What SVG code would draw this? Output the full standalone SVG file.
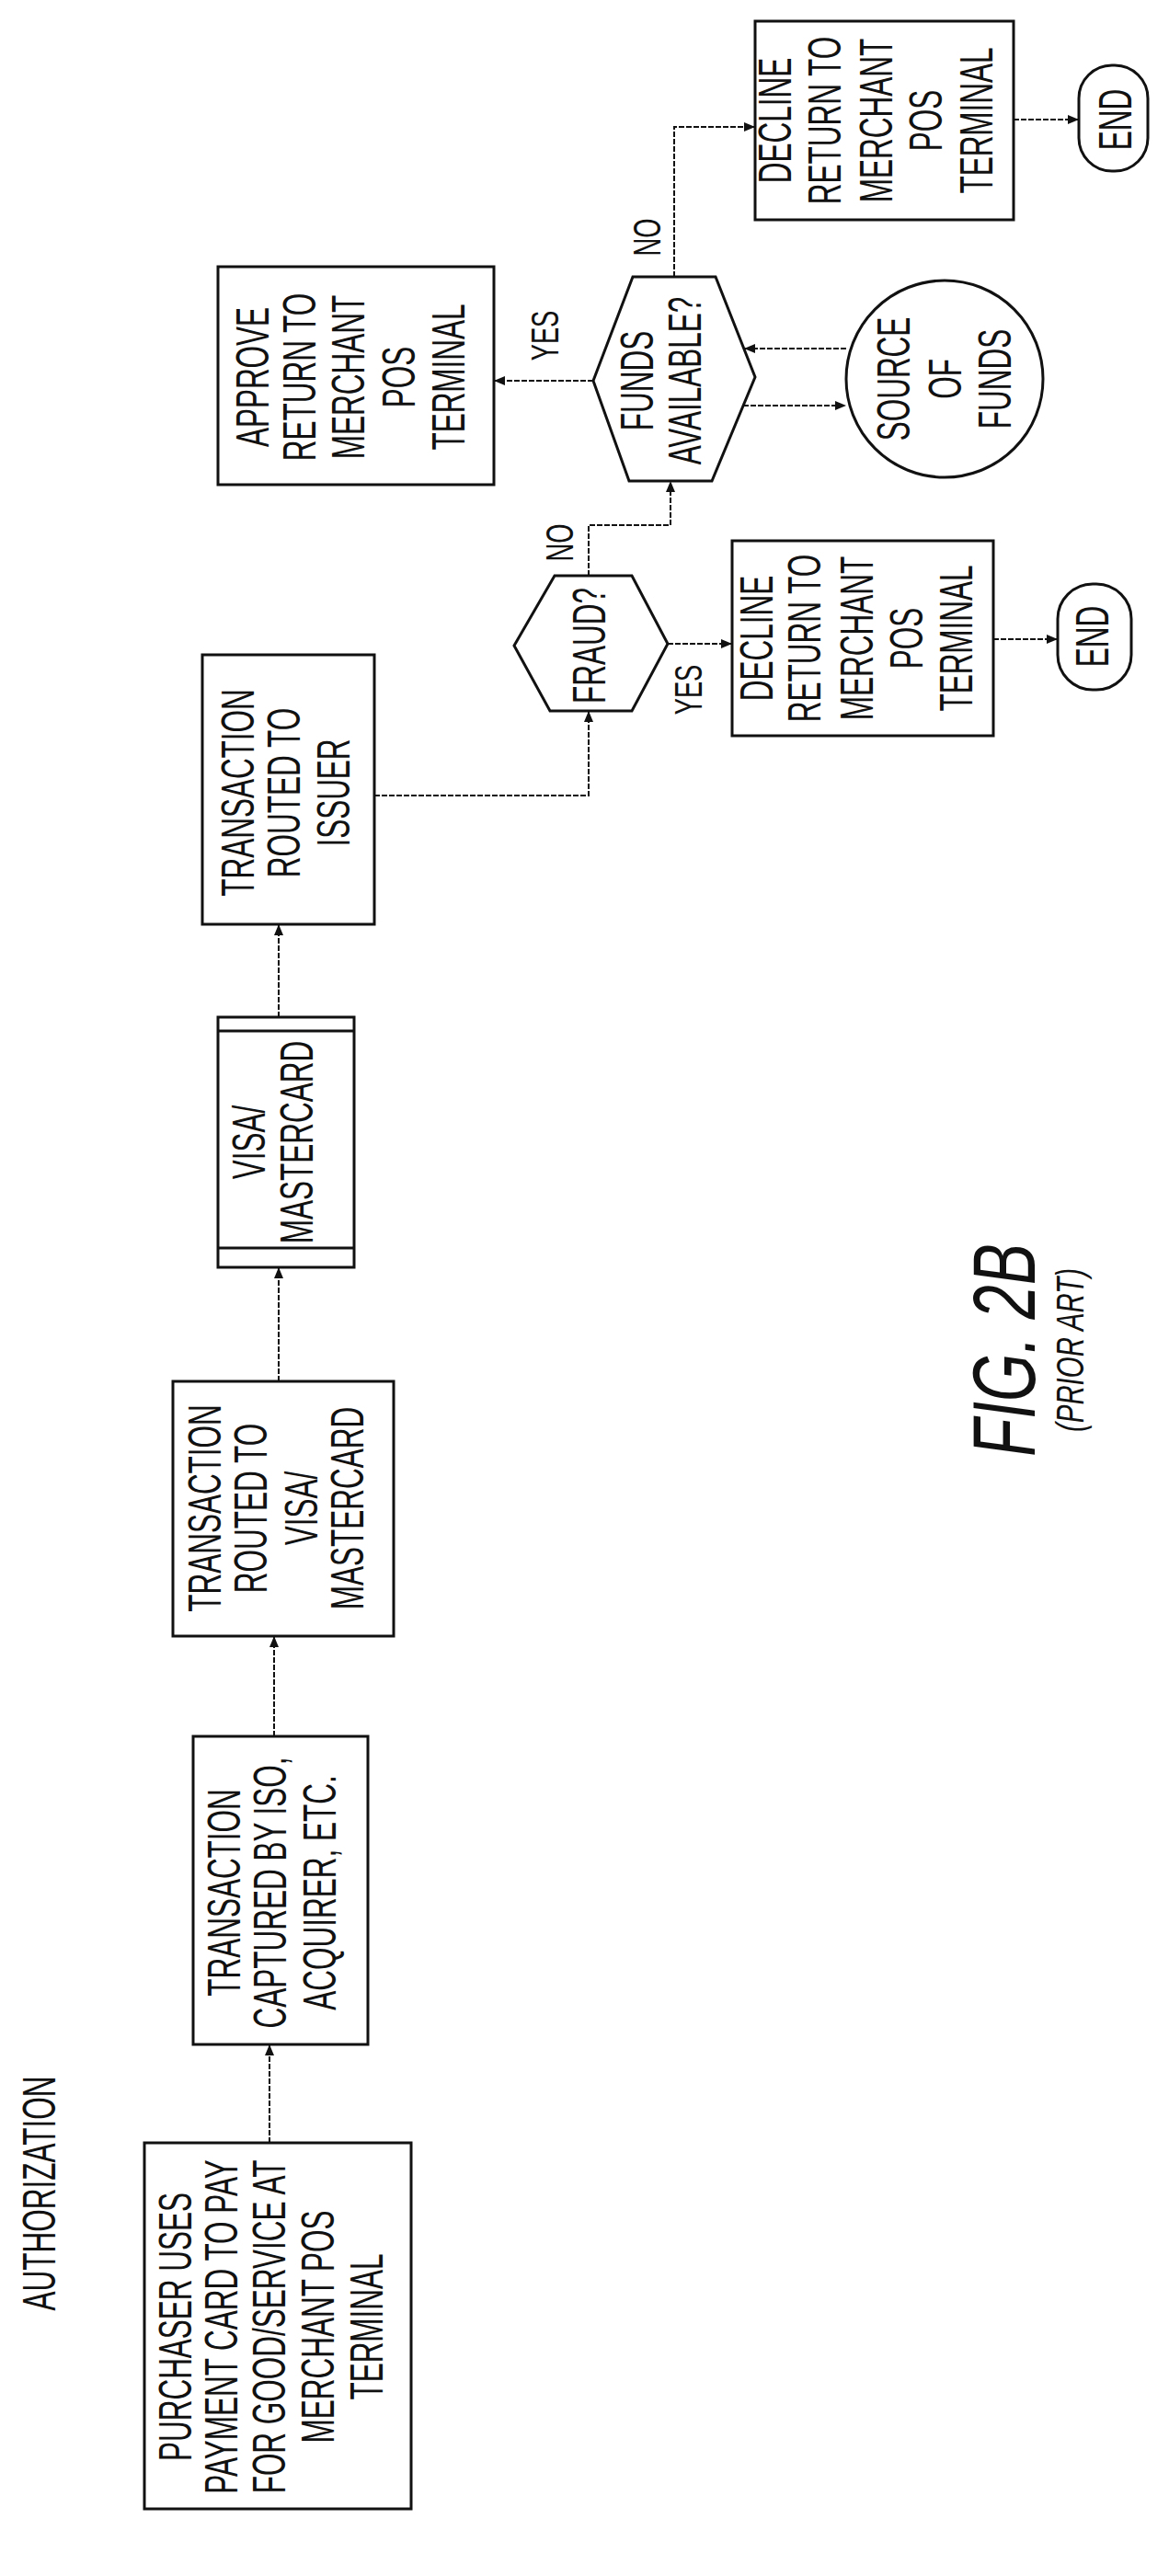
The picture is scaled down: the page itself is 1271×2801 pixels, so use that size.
<svg xmlns="http://www.w3.org/2000/svg" width="1271" height="2801" viewBox="0 0 1271 2801">
<style>
.s{fill:none;stroke:#111;stroke-width:3}
.c{fill:none;stroke:#111;stroke-width:2;stroke-dasharray:6 2}
text{font-family:"Liberation Sans",Arial,sans-serif;font-size:50px;fill:#111;text-anchor:middle}
.l{font-size:42px}
.fig{font-size:96px;font-style:italic}
.pa{font-size:42px;font-style:italic}
</style>
<defs>
<marker id="a" markerWidth="12" markerHeight="10" refX="11" refY="5" orient="auto" markerUnits="userSpaceOnUse">
<path d="M0,0 L12,5 L0,10 Z" fill="#111"/>
</marker>
</defs>
<rect width="1271" height="2801" fill="#fff"/>
<g id="connectors">
<path class="c" d="M293,2330 V2224" marker-end="url(#a)"/>
<path class="c" d="M298,1888 V1780" marker-end="url(#a)"/>
<path class="c" d="M303,1502 V1379" marker-end="url(#a)"/>
<path class="c" d="M303,1106 V1006" marker-end="url(#a)"/>
<path class="c" d="M407,865 H640 V774" marker-end="url(#a)"/>
<path class="c" d="M726,700 H795" marker-end="url(#a)"/>
<path class="c" d="M1080,695 H1149" marker-end="url(#a)"/>
<path class="c" d="M640,626 V571 H729 V524" marker-end="url(#a)"/>
<path class="c" d="M645,414 H538" marker-end="url(#a)"/>
<path class="c" d="M733,301 V138 H820" marker-end="url(#a)"/>
<path class="c" d="M1102,130 H1172" marker-end="url(#a)"/>
<path class="c" d="M920,379 H810" marker-end="url(#a)"/>
<path class="c" d="M808,441 H919" marker-end="url(#a)"/>
<text class="l" transform="translate(607,365) rotate(-90) scale(0.65,1)">YES</text>
<text class="l" transform="translate(718,258) rotate(-90) scale(0.65,1)">NO</text>
<text class="l" transform="translate(763,750) rotate(-90) scale(0.65,1)">YES</text>
<text class="l" transform="translate(623,590) rotate(-90) scale(0.65,1)">NO</text>
</g>
<g id="title"><text transform="translate(60,2385) rotate(-90) scale(0.63,1)">AUTHORIZATION</text></g>
<g id="purchaser">
<rect class="s" x="157" y="2330" width="290" height="398"/>
<text transform="translate(208,2530) rotate(-90) scale(0.63,1)">PURCHASER USES</text>
<text transform="translate(258,2530) rotate(-90) scale(0.63,1)">PAYMENT CARD TO PAY</text>
<text transform="translate(310,2530) rotate(-90) scale(0.63,1)">FOR GOOD/SERVICE AT</text>
<text transform="translate(363,2530) rotate(-90) scale(0.63,1)">MERCHANT POS</text>
<text transform="translate(416,2530) rotate(-90) scale(0.63,1)">TERMINAL</text>
</g>
<g id="captured">
<rect class="s" x="210" y="1888" width="190" height="335"/>
<text transform="translate(261,2058) rotate(-90) scale(0.63,1)">TRANSACTION</text>
<text transform="translate(311,2058) rotate(-90) scale(0.63,1)">CAPTURED BY ISO,</text>
<text transform="translate(365,2058) rotate(-90) scale(0.63,1)">ACQUIRER, ETC.</text>
</g>
<g id="routed-visa">
<rect class="s" x="188" y="1502" width="240" height="277"/>
<text transform="translate(240,1640) rotate(-90) scale(0.63,1)">TRANSACTION</text>
<text transform="translate(290,1640) rotate(-90) scale(0.63,1)">ROUTED TO</text>
<text transform="translate(345,1640) rotate(-90) scale(0.63,1)">VISA/</text>
<text transform="translate(395,1640) rotate(-90) scale(0.63,1)">MASTERCARD</text>
</g>
<g id="visa">
<rect class="s" x="237" y="1106" width="148" height="272"/>
<line class="s" x1="237" y1="1121" x2="385" y2="1121"/>
<line class="s" x1="237" y1="1357" x2="385" y2="1357"/>
<text transform="translate(288,1242) rotate(-90) scale(0.63,1)">VISA/</text>
<text transform="translate(340,1242) rotate(-90) scale(0.63,1)">MASTERCARD</text>
</g>
<g id="issuer">
<rect class="s" x="220" y="712" width="187" height="293"/>
<text transform="translate(276,862) rotate(-90) scale(0.63,1)">TRANSACTION</text>
<text transform="translate(326,862) rotate(-90) scale(0.63,1)">ROUTED TO</text>
<text transform="translate(380,862) rotate(-90) scale(0.63,1)">ISSUER</text>
</g>
<g id="fraud">
<polygon class="s" points="603,626 687,626 726,700 687,773 598,773 559,702"/>
<text transform="translate(658,702) rotate(-90) scale(0.63,1)">FRAUD?</text>
</g>
<g id="decline2">
<rect class="s" x="796" y="588" width="284" height="212"/>
<text transform="translate(840,694) rotate(-90) scale(0.63,1)">DECLINE</text>
<text transform="translate(892,694) rotate(-90) scale(0.63,1)">RETURN TO</text>
<text transform="translate(949,694) rotate(-90) scale(0.63,1)">MERCHANT</text>
<text transform="translate(1003,694) rotate(-90) scale(0.63,1)">POS</text>
<text transform="translate(1057,694) rotate(-90) scale(0.63,1)">TERMINAL</text>
</g>
<g id="end2">
<rect class="s" x="1150" y="635" width="80" height="115" rx="38" ry="38"/>
<text transform="translate(1205,692) rotate(-90) scale(0.63,1)">END</text>
</g>
<g id="approve">
<rect class="s" x="237" y="290" width="300" height="237"/>
<text transform="translate(292,410) rotate(-90) scale(0.63,1)">APPROVE</text>
<text transform="translate(343,410) rotate(-90) scale(0.63,1)">RETURN TO</text>
<text transform="translate(396,410) rotate(-90) scale(0.63,1)">MERCHANT</text>
<text transform="translate(451,410) rotate(-90) scale(0.63,1)">POS</text>
<text transform="translate(505,410) rotate(-90) scale(0.63,1)">TERMINAL</text>
</g>
<g id="funds">
<polygon class="s" points="688,301 778,301 821,410 774,523 684,523 645,414"/>
<text transform="translate(710,414) rotate(-90) scale(0.63,1)">FUNDS</text>
<text transform="translate(762,414) rotate(-90) scale(0.63,1)">AVAILABLE?</text>
</g>
<g id="source">
<ellipse class="s" cx="1027" cy="412" rx="107" ry="107"/>
<text transform="translate(989,412) rotate(-90) scale(0.63,1)">SOURCE</text>
<text transform="translate(1045,412) rotate(-90) scale(0.63,1)">OF</text>
<text transform="translate(1099,412) rotate(-90) scale(0.63,1)">FUNDS</text>
</g>
<g id="decline1">
<rect class="s" x="821" y="23" width="281" height="216"/>
<text transform="translate(860,131) rotate(-90) scale(0.63,1)">DECLINE</text>
<text transform="translate(914,131) rotate(-90) scale(0.63,1)">RETURN TO</text>
<text transform="translate(970,131) rotate(-90) scale(0.63,1)">MERCHANT</text>
<text transform="translate(1024,131) rotate(-90) scale(0.63,1)">POS</text>
<text transform="translate(1079,131) rotate(-90) scale(0.63,1)">TERMINAL</text>
</g>
<g id="end1">
<rect class="s" x="1173" y="71" width="75" height="115" rx="36" ry="36"/>
<text transform="translate(1230,130) rotate(-90) scale(0.63,1)">END</text>
</g>
<g id="caption">
<text class="fig" transform="translate(1125,1468) rotate(-90) scale(0.7,1)">FIG. 2B</text>
<text class="pa" transform="translate(1178,1468) rotate(-90) scale(0.7,1)">(PRIOR ART)</text>
</g>
</svg>
